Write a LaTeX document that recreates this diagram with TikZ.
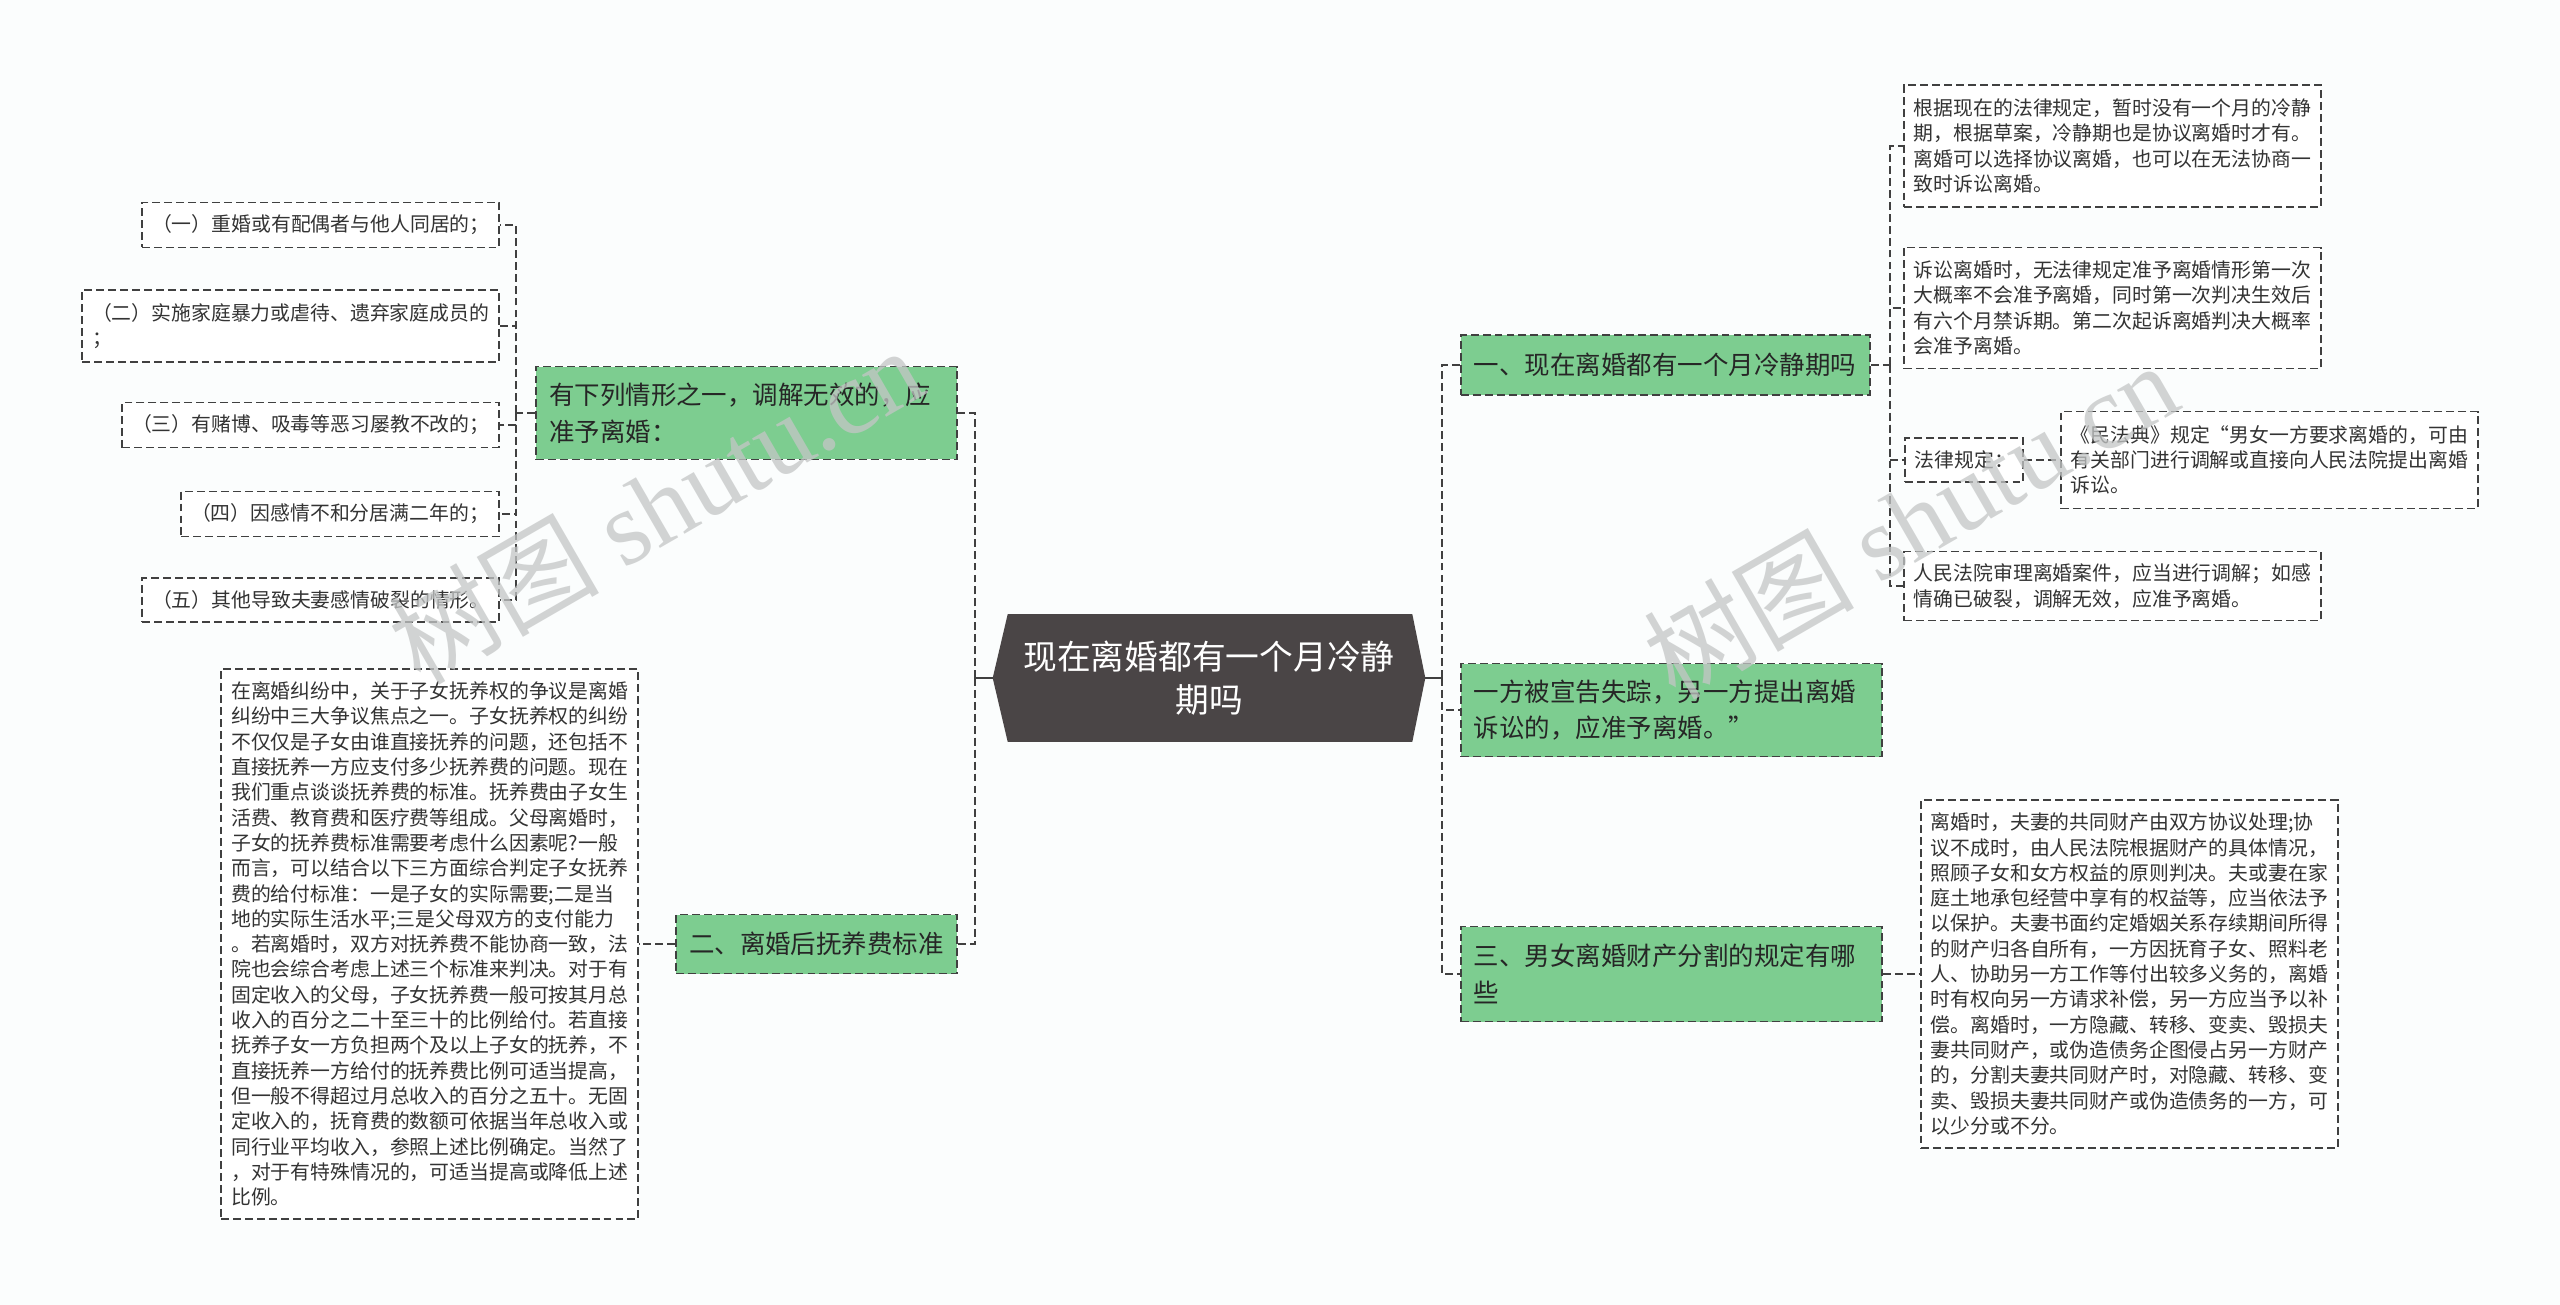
\documentclass[tikz,border=0pt]{standalone}
\usepackage{fontspec}
\setmainfont{Noto Sans CJK SC}
\newfontfamily\wmlatin{Liberation Serif}
\usetikzlibrary{positioning,backgrounds}
\definecolor{topicgreen}{RGB}{125,205,144}
\definecolor{rootgray}{RGB}{74,69,70}
\definecolor{linegray}{RGB}{64,64,64}
\definecolor{markgray}{RGB}{196,198,198}
\definecolor{paper}{RGB}{251,253,253}
\tikzset{
  leaf/.style={draw=linegray, line width=1.1pt, dash pattern=on 4.5pt off 2.3pt, fill=white, align=left, inner xsep=0.2cm, inner ysep=0.1cm, font=\fontsize{11.3}{14.4}\selectfont, text=black!80, text width=7.94cm},
  topic/.style={leaf, fill=topicgreen, inner xsep=0.26cm, font=\fontsize{14.5}{20.9}\selectfont, text=black!85, text width=7.9cm},
  rootbox/.style={minimum width=8.64cm, minimum height=2.54cm, align=center, font=\fontsize{19.2}{24.2}\selectfont, text=white},
  conn/.style={draw=linegray, line width=1.1pt, dash pattern=on 4.5pt off 2.3pt},
  wmark/.style={font=\fontsize{60}{60}\selectfont, text=markgray, text opacity=0.75},
}

\begin{document}
\begin{tikzpicture}[x=0.02cm, y=-0.02cm]
\useasboundingbox (0,0) rectangle (2560,1305);

% root
\node[rootbox] at (1209,678) (root) {现在离婚都有一个月冷静\\期吗};
\begin{scope}[on background layer]
  \fill[paper] (0,0) rectangle (2560,1305);
  \fill[rootgray] (root.west) -- ([xshift=0.3cm]root.north west) -- ([xshift=-0.26cm]root.north east)
    -- (root.east) -- ([xshift=-0.26cm]root.south east) -- ([xshift=0.3cm]root.south west) -- cycle;
\end{scope}

% right topics
\node[topic, anchor=west, text width=7.66cm, minimum height=1.2cm] at (1460,365) (g1)
  {一、现在离婚都有一个月冷静期吗};
\node[topic, anchor=west, minimum height=1.86cm] at (1460,710) (g2)
  {一方被宣告失踪，另一方提出离婚\\诉讼的，应准予离婚。”};
\node[topic, anchor=west, minimum height=1.9cm] at (1460,974) (g3)
  {三、男女离婚财产分割的规定有哪\\些};

% left topics
\node[topic, anchor=east, minimum height=1.86cm] at (958,413) (l1)
  {有下列情形之一，调解无效的，应\\准予离婚：};
\node[topic, anchor=east, text width=5.1cm, minimum height=1.18cm] at (958,944) (l2)
  {二、离婚后抚养费标准};

% right leaves
\node[leaf, anchor=west, minimum height=2.44cm] at (1903,146) (ra)
  {根据现在的法律规定，暂时没有一个月的冷静\\期，根据草案，冷静期也是协议离婚时才有。\\离婚可以选择协议离婚，也可以在无法协商一\\致时诉讼离婚。};
\node[leaf, anchor=west, minimum height=2.42cm] at (1903,308) (rb)
  {诉讼离婚时，无法律规定准予离婚情形第一次\\大概率不会准予离婚，同时第一次判决生效后\\有六个月禁诉期。第二次起诉离婚判决大概率\\会准予离婚。};
\node[leaf, anchor=west, text width=1.96cm, minimum height=0.88cm] at (1904,460) (law)
  {法律规定：};
\node[leaf, right=0.72cm of law, minimum height=1.94cm] (civil)
  {《民法典》规定“男女一方要求离婚的，可由\\有关部门进行调解或直接向人民法院提出离婚\\诉讼。};
\node[leaf, anchor=west, minimum height=1.38cm] at (1903,586) (rd)
  {人民法院审理离婚案件，应当进行调解；如感\\情确已破裂，调解无效，应准予离婚。};
\node[leaf, right=0.74cm of g3, minimum height=6.96cm] (rbig)
  {离婚时，夫妻的共同财产由双方协议处理;协\\议不成时，由人民法院根据财产的具体情况，\\照顾子女和女方权益的原则判决。夫或妻在家\\庭土地承包经营中享有的权益等，应当依法予\\以保护。夫妻书面约定婚姻关系存续期间所得\\的财产归各自所有，一方因抚育子女、照料老\\人、协助另一方工作等付出较多义务的，离婚\\时有权向另一方请求补偿，另一方应当予以补\\偿。离婚时，一方隐藏、转移、变卖、毁损夫\\妻共同财产，或伪造债务企图侵占另一方财产\\的，分割夫妻共同财产时，对隐藏、转移、变\\卖、毁损夫妻共同财产或伪造债务的一方，可\\以少分或不分。};

% left leaves
\node[leaf, anchor=east, text width=6.74cm, minimum height=0.9cm] at (500,225) (c1)
  {（一）重婚或有配偶者与他人同居的；};
\node[leaf, anchor=east, minimum height=1.44cm] at (500,326) (c2)
  {（二）实施家庭暴力或虐待、遗弃家庭成员的\\；};
\node[leaf, anchor=east, text width=7.14cm, minimum height=0.9cm] at (500,425) (c3)
  {（三）有赌博、吸毒等恶习屡教不改的；};
\node[leaf, anchor=east, text width=5.96cm, minimum height=0.9cm] at (500,514) (c4)
  {（四）因感情不和分居满二年的；};
\node[leaf, anchor=east, text width=6.74cm, minimum height=0.88cm] at (500,600) (c5)
  {（五）其他导致夫妻感情破裂的情形。};
\node[leaf, left=0.72cm of l2, minimum height=11cm] (lbig)
  {在离婚纠纷中，关于子女抚养权的争议是离婚\\纠纷中三大争议焦点之一。子女抚养权的纠纷\\不仅仅是子女由谁直接抚养的问题，还包括不\\直接抚养一方应支付多少抚养费的问题。现在\\我们重点谈谈抚养费的标准。抚养费由子女生\\活费、教育费和医疗费等组成。父母离婚时，\\子女的抚养费标准需要考虑什么因素呢?一般\\而言，可以结合以下三方面综合判定子女抚养\\费的给付标准：一是子女的实际需要;二是当\\地的实际生活水平;三是父母双方的支付能力\\。若离婚时，双方对抚养费不能协商一致，法\\院也会综合考虑上述三个标准来判决。对于有\\固定收入的父母，子女抚养费一般可按其月总\\收入的百分之二十至三十的比例给付。若直接\\抚养子女一方负担两个及以上子女的抚养，不\\直接抚养一方给付的抚养费比例可适当提高，\\但一般不得超过月总收入的百分之五十。无固\\定收入的，抚育费的数额可依据当年总收入或\\同行业平均收入，参照上述比例确定。当然了\\，对于有特殊情况的，可适当提高或降低上述\\比例。};

% connectors
\coordinate (jr) at ([xshift=0.34cm]root.east);
\coordinate (jl) at ([xshift=-0.36cm]root.west);
\draw[conn, solid] (root.east) -- (jr);
\draw[conn, solid] (root.west) -- (jl);
\foreach \n in {g1,g2,g3} \draw[conn] (jr) |- (\n.west);
\foreach \n in {l1,l2} \draw[conn] (jl) |- (\n.east);

\coordinate (j1) at ([xshift=0.38cm]g1.east);
\draw[conn] (g1.east) -- (j1);
\foreach \n in {ra,rb,law,rd} \draw[conn] (j1) |- (\n.west);
\draw[conn] (law) -- (civil);
\draw[conn] (g3) -- (rbig);

\coordinate (j2) at ([xshift=-0.38cm]l1.west);
\draw[conn] (l1.west) -- (j2);
\foreach \n in {c1,c2,c3,c4,c5} \draw[conn] (j2) |- (\n.east);
\draw[conn] (l2) -- (lbig);

% watermarks
\node[wmark, rotate=30] at (655,505) (wm1) {树图 {\wmlatin shutu.cn}};
\node[wmark, rotate=30] at (1910,520) (wm2) {树图 {\wmlatin shutu.cn}};

\end{tikzpicture}
\end{document}
